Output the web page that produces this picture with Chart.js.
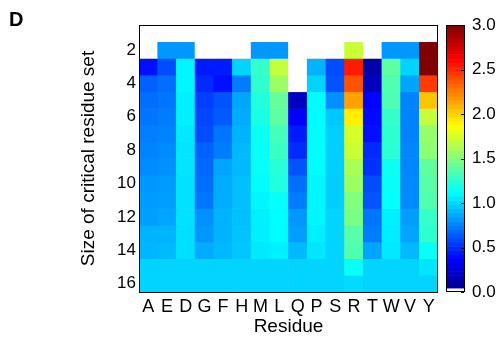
<!DOCTYPE html>
<html>
<head>
<meta charset="utf-8">
<script src="https://cdn.jsdelivr.net/npm/chart.js@4/dist/chart.umd.min.js"></script>
<style>
  html, body { margin: 0; padding: 0; background: #fff; }
  #wrap { position: relative; width: 500px; height: 341px; }
  #panel { position: absolute; left: 9px; top: 8px; font: bold 20px "Liberation Sans", Arial, sans-serif; color: #000; }
</style>
</head>
<body>
<div id="wrap">
  <canvas id="heat" width="500" height="341"></canvas>
  <div id="panel">D</div>
</div>
<script>
// residues along x, set sizes along y
var residues = ['A', 'E', 'D', 'G', 'F', 'H', 'M', 'L', 'Q', 'P', 'S', 'R', 'T', 'W', 'V', 'Y'];
var setSizes = [1, 2, 3, 4, 5, 6, 7, 8, 9, 10, 11, 12, 13, 14, 15, 16];

// one row per set size, values in residue order (0 = no value, drawn white)
var heatRows = [
  [0, 0, 0, 0, 0, 0, 0, 0, 0, 0, 0, 0, 0, 0, 0, 0],
  [0, 0.82, 0.82, 0, 0, 0, 0.82, 0.82, 0, 0, 0, 1.72, 0, 0.82, 0.82, 3.0],
  [0.42, 0.60, 1.10, 0.45, 0.45, 1.00, 1.28, 1.70, 0, 0.90, 0.60, 2.55, 0.12, 1.40, 1.00, 3.0],
  [0.66, 0.70, 1.10, 0.50, 0.42, 0.74, 1.26, 1.58, 0, 1.00, 0.62, 2.38, 0.18, 1.36, 0.86, 2.45],
  [0.70, 0.72, 1.08, 0.56, 0.62, 0.86, 1.22, 1.42, 0.20, 1.12, 0.80, 2.15, 0.38, 1.35, 0.76, 2.05],
  [0.72, 0.74, 1.08, 0.58, 0.64, 0.88, 1.20, 1.40, 0.36, 1.12, 0.96, 1.92, 0.40, 1.28, 0.76, 1.70],
  [0.75, 0.76, 1.06, 0.60, 0.72, 0.90, 1.16, 1.32, 0.45, 1.12, 0.98, 1.75, 0.42, 1.26, 0.76, 1.56],
  [0.76, 0.78, 1.05, 0.66, 0.74, 0.92, 1.15, 1.30, 0.50, 1.12, 0.98, 1.72, 0.50, 1.25, 0.77, 1.54],
  [0.78, 0.80, 1.05, 0.68, 0.86, 0.92, 1.14, 1.24, 0.62, 1.12, 0.98, 1.62, 0.52, 1.16, 0.77, 1.40],
  [0.82, 0.83, 1.04, 0.70, 0.88, 0.94, 1.12, 1.22, 0.70, 1.10, 0.98, 1.58, 0.60, 1.15, 0.78, 1.38],
  [0.83, 0.84, 1.04, 0.72, 0.88, 0.94, 1.10, 1.14, 0.74, 1.10, 0.98, 1.50, 0.62, 1.14, 0.78, 1.36],
  [0.84, 0.86, 1.04, 0.80, 0.90, 0.94, 1.08, 1.12, 0.82, 1.10, 1.00, 1.48, 0.72, 1.08, 0.84, 1.28],
  [0.90, 0.90, 1.03, 0.82, 0.90, 0.95, 1.08, 1.12, 0.84, 1.08, 1.00, 1.38, 0.74, 1.07, 0.86, 1.26],
  [0.91, 0.92, 1.03, 0.88, 0.92, 0.96, 1.06, 1.08, 0.92, 1.05, 1.00, 1.36, 0.86, 1.06, 0.92, 1.15],
  [1.00, 1.00, 1.00, 1.00, 1.00, 1.00, 1.00, 1.00, 1.00, 1.00, 1.00, 1.15, 1.00, 1.00, 1.00, 1.05],
  [1.00, 1.00, 1.00, 1.00, 1.00, 1.00, 1.00, 1.00, 1.00, 1.00, 1.00, 1.02, 1.00, 1.00, 1.00, 1.00]
];

var colorMin = 0;
var colorMax = 3;
var colorTicks = [0, 0.5, 1, 1.5, 2, 2.5, 3];

Chart.defaults.font.family = "'Liberation Sans', Arial, sans-serif";
Chart.defaults.color = '#000';

// matlab style jet, white for zero
var jet = function(v) {
  if (v <= colorMin) return '#ffffff';
  var t = Math.min((v - colorMin) / (colorMax - colorMin), 1);
  var c = function(x) { return Math.round(255 * Math.max(0, Math.min(1, x))); };
  var r = c(1.5 - Math.abs(4 * t - 3));
  var g = c(1.5 - Math.abs(4 * t - 2));
  var b = c(1.5 - Math.abs(4 * t - 1));
  return 'rgb(' + r + ',' + g + ',' + b + ')';
};

var datasets = setSizes.map(function(size, i) {
  return {
    label: 'size ' + size,
    data: residues.map(function() { return [size - 0.5, size + 0.5]; }),
    backgroundColor: heatRows[i].map(jet),
    borderWidth: 0,
    grouped: false,
    barPercentage: 1,
    categoryPercentage: 1
  };
});

// vertical axes should not push the plot area down
var noVerticalPadding = function(s) {
  s.paddingTop = 0;
  s.paddingBottom = 0;
};

// box around the plot plus the colour bar next to it
var framePlugin = {
  id: 'frame',
  afterDraw: function(chart) {
    var ctx = chart.ctx;
    var area = chart.chartArea;
    var cb = chart.scales.cb;
    ctx.save();
    ctx.strokeStyle = '#000';
    ctx.lineWidth = 1;
    ctx.strokeRect(Math.round(area.left) + 0.5, Math.round(area.top) + 0.5,
      Math.round(area.right - area.left) - 1, Math.round(area.bottom - area.top));

    var x0 = area.right + 8;
    var w = 19;
    var steps = 64;
    var step = (colorMax - colorMin) / steps;
    for (var k = 0; k < steps; k++) {
      var lo = colorMin + k * step;
      var yBot = cb.getPixelForValue(lo);
      var yTop = cb.getPixelForValue(lo + step);
      ctx.fillStyle = k === 0 ? '#ffffff' : jet(lo + step / 2);
      ctx.fillRect(x0, yTop, w, yBot - yTop + 0.6);
    }
    var top = cb.getPixelForValue(colorMax);
    var bot = cb.getPixelForValue(colorMin);
    ctx.strokeRect(Math.round(x0) + 0.5, Math.round(top) + 0.5, w - 1, Math.round(bot - top) - 1);
    colorTicks.forEach(function(v) {
      var y = Math.round(cb.getPixelForValue(v)) + 0.5;
      ctx.beginPath();
      ctx.moveTo(x0 + w - 4, y);
      ctx.lineTo(x0 + w - 1, y);
      ctx.stroke();
    });
    ctx.restore();
  }
};

new Chart(document.getElementById('heat'), {
  type: 'bar',
  data: { labels: residues, datasets: datasets },
  options: {
    responsive: false,
    animation: false,
    layout: { padding: { top: 25, left: 0, right: 0, bottom: 0 } },
    plugins: { legend: { display: false }, tooltip: { enabled: false } },
    scales: {
      x: {
        type: 'category',
        grid: { display: false, drawTicks: false },
        border: { display: false },
        ticks: { font: { size: 18 }, padding: 4, maxRotation: 0, autoSkip: false },
        title: { display: true, text: 'Residue', font: { size: 19 }, padding: { top: 0, bottom: 3 } },
        afterFit: function(s) { s.height = 49; }
      },
      y: {
        type: 'linear',
        min: 0.5,
        max: 16.5,
        reverse: true,
        grid: { display: false, drawTicks: false },
        border: { display: false },
        ticks: { font: { size: 17 }, padding: 3 },
        afterBuildTicks: function(s) {
          s.ticks = setSizes.filter(function(n) { return n % 2 === 0; }).map(function(n) { return { value: n }; });
        },
        title: { display: true, text: 'Size of critical residue set', font: { size: 19 }, padding: { top: 77, bottom: 0 } },
        afterFit: function(s) { s.width = 139; noVerticalPadding(s); }
      },
      cb: {
        type: 'linear',
        position: 'right',
        min: colorMin,
        max: colorMax,
        grid: { display: false, drawTicks: false },
        border: { display: false },
        ticks: {
          font: { size: 17 },
          padding: 34,
          stepSize: 0.5,
          callback: function(v) { return Number(v).toFixed(1); }
        },
        afterFit: function(s) { s.width = 62; noVerticalPadding(s); }
      }
    }
  },
  plugins: [framePlugin]
});
</script>
</body>
</html>
